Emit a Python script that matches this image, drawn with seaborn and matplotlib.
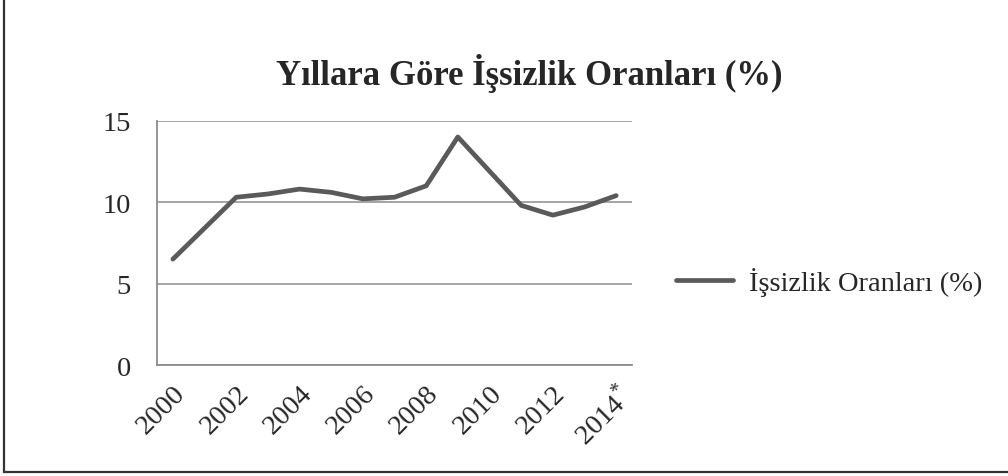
import matplotlib
matplotlib.use("Agg")
import matplotlib.pyplot as plt
import matplotlib.lines as mlines
import seaborn as sns
import pandas as pd

years = list(range(2000, 2015))
rates = [6.5, 8.4, 10.3, 10.5, 10.8, 10.6, 10.2, 10.3, 11.0, 14.0, 11.9, 9.8, 9.2, 9.7, 10.4]
tick_labels = ["2000", "2002", "2004", "2006", "2008", "2010", "2012", "2014$^{*}$"]
series_name = "İşsizlik Oranları (%)"
title = "Yıllara Göre İşsizlik Oranları (%)"

sns.set_style("white")
plt.rcParams["font.family"] = ["Liberation Serif", "DejaVu Serif"]
plt.rcParams["mathtext.fontset"] = "custom"
plt.rcParams["mathtext.rm"] = "Liberation Serif"

df = pd.DataFrame({"idx": range(len(years)), "rate": rates, "series": series_name})

fig = plt.figure(figsize=(10.08, 4.77), dpi=100)
ax = fig.add_axes([0.1558, 0.2327, 0.4712, 0.5122])

grid_c = "#8c8c8c"
sns.lineplot(data=df, x="idx", y="rate", hue="series", palette=["#5a5a5a"],
             linewidth=3.4, ax=ax, legend=True)

ax.set_xlim(-0.5, len(years) - 0.5)
ax.set_ylim(0, 15)
ax.set_yticks([0, 5, 10, 15])
ax.yaxis.grid(True, color=grid_c, linewidth=1.1)
ax.set_axisbelow(True)
for s in ["top", "right"]:
    ax.spines[s].set_visible(False)
for s in ["left", "bottom"]:
    ax.spines[s].set_color(grid_c)
    ax.spines[s].set_linewidth(1.3)

# category boundaries as tick marks, labels every second year
ax.set_xticks([i - 0.5 for i in range(len(years) + 1)])
ax.set_xticklabels([])
ax.set_xticks(list(range(0, len(years), 2)), minor=True)
ax.set_xticklabels(tick_labels, minor=True, rotation=45, ha="right", va="top",
                   rotation_mode="anchor", fontsize=20.5)
ax.tick_params(axis="x", which="major", length=6, width=1.3, color=grid_c, direction="out")
ax.tick_params(axis="x", which="minor", length=0, pad=11)
ax.tick_params(axis="y", length=7, width=1.3, color=grid_c, labelsize=20.5, pad=12)
ax.set_xlabel("")
ax.set_ylabel("")

ax.legend(loc="center left", bbox_to_anchor=(0.6706, 0.4067), bbox_transform=fig.transFigure,
          frameon=False, fontsize=20.5, handlelength=2.0, handletextpad=0.55,
          borderpad=0, borderaxespad=0)

fig.text(0.525, 0.845, title, ha="center", va="center", fontsize=25, fontweight="bold")

# outer frame: dark left and bottom, light top
fig.lines.append(mlines.Line2D([0.0037, 0.0037], [0.009, 1.0], transform=fig.transFigure,
                               color="#333333", linewidth=1.6))
fig.lines.append(mlines.Line2D([0.0037, 1.0], [0.009, 0.009], transform=fig.transFigure,
                               color="#333333", linewidth=1.6))
fig.lines.append(mlines.Line2D([0.0037, 1.0], [0.999, 0.999], transform=fig.transFigure,
                               color="#b0b0b0", linewidth=1.2))

fig.savefig("out.png", dpi=100)
